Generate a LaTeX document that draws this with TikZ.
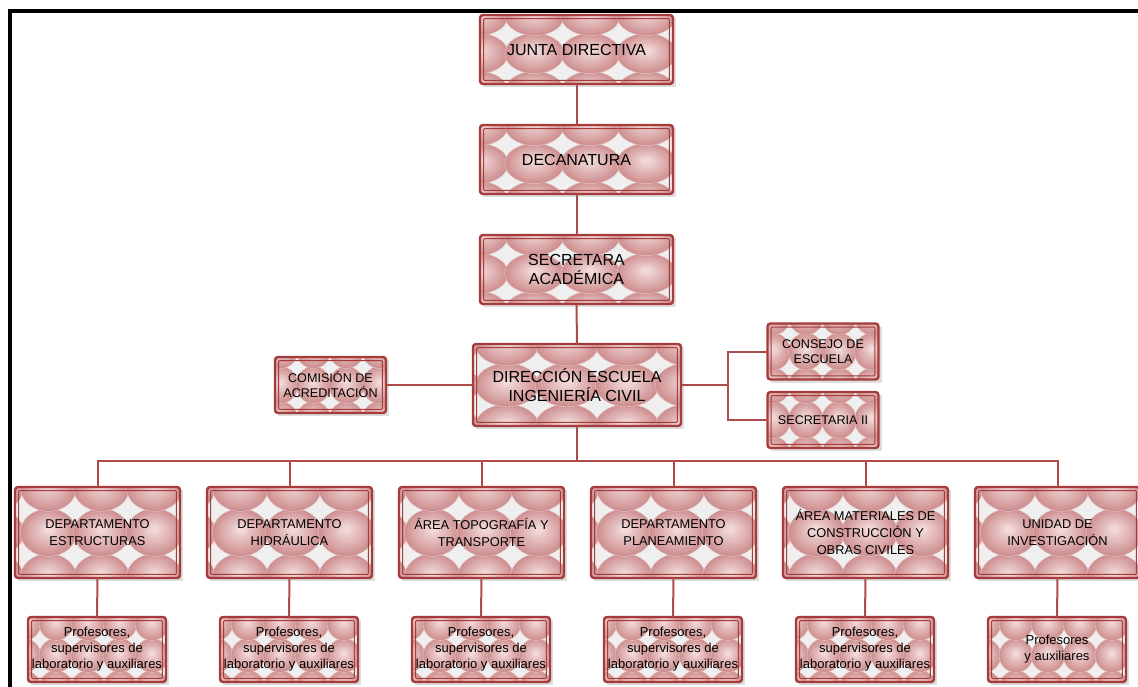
\documentclass[tikz,border=0pt]{standalone}
\usepackage{fontspec}
\setmainfont{Liberation Sans}
\usetikzlibrary{shadows}

\definecolor{frame}{HTML}{A53B3B}
\definecolor{wire}{HTML}{B04A4A}
\definecolor{tilebg}{HTML}{EFEFEF}
\definecolor{balllight}{HTML}{F2D8D8}
\definecolor{balldark}{HTML}{CF9191}
\definecolor{ballrim}{HTML}{E4C4C4}

\tikzset{
  unitbase/.style={rectangle, inner sep=0pt, outer sep=0pt, fill=tilebg,
    drop shadow={shadow xshift=3pt, shadow yshift=-3pt, fill=black!13, opacity=1}},
  top/.style={unitbase, minimum width=193pt, minimum height=69pt},
  dir/.style={unitbase, minimum width=208pt, minimum height=82pt},
  side/.style={unitbase, minimum width=111pt, minimum height=56pt},
  dept/.style={unitbase, minimum width=165pt, minimum height=91pt},
  staff/.style={unitbase, minimum width=138pt, minimum height=65pt},
  unitlabel/.style={inner sep=0pt, align=center, text=black},
  top label/.style={unitlabel, font=\fontsize{16}{19}\selectfont},
  dir label/.style={unitlabel, font=\fontsize{16}{19}\selectfont},
  side label/.style={unitlabel, font=\fontsize{12.6}{15}\selectfont},
  dept label/.style={unitlabel, font=\fontsize{12.8}{17}\selectfont},
  staff label/.style={unitlabel, font=\fontsize{13}{16}\selectfont},
  unitframe/.style={draw=frame, line width=2.4pt, rounded corners=3pt},
  unitinner/.style={draw=frame, line width=0.9pt, rounded corners=1pt},
  wire/.style={draw=wire, line width=2pt},
}

% tile columns/rows that reach into each kind of box
\expandafter\def\csname tiles-top\endcsname{\def\tilei{-2,...,1}\def\tilej{-1,...,1}}
\expandafter\def\csname tiles-dir\endcsname{\def\tilei{-2,...,2}\def\tilej{-1,...,1}}
\expandafter\def\csname tiles-side\endcsname{\def\tilei{-2,...,1}\def\tilej{-1,...,1}}
\expandafter\def\csname tiles-dept\endcsname{\def\tilei{-2,...,2}\def\tilej{-1,...,1}}
\expandafter\def\csname tiles-staff\endcsname{\def\tilei{-2,...,2}\def\tilej{-1,...,1}}

% one lit ball of the tile pattern: node, dx, dy, rx, ry (pt, y upwards)
\newcommand\tileball[5]{%
  \pgfmathsetmacro\tbx{#2}\pgfmathsetmacro\tby{#3}%
  \pgfmathsetmacro\tbrx{#4}\pgfmathsetmacro\tbry{#5}%
  \begin{scope}[shift={(#1.center)}, shift={(\tbx pt,\tby pt)}, xscale=\tbrx, yscale=\tbry]
    \foreach \k in {0,...,9}{%
      \pgfmathsetmacro\ballr{1-0.095*\k}%
      \pgfmathsetmacro\bally{0.014*\k}%
      \pgfmathtruncatemacro\ballmix{\k*100/9}%
      \fill[balllight!\ballmix!balldark] (0pt,\bally pt) circle (\ballr pt);
    }
  \end{scope}
  \draw[ballrim, line width=0.4pt] ([shift={(\tbx pt,\tby pt)}]#1.center)
    ellipse [x radius=\tbrx pt, y radius=\tbry pt];
}

% a unit box: name, kind, position, tile spacing x/y, tile offset x/y, text
\newcommand\orgunit[8]{%
  \node[#2] (#1) at (#3) {};
  \csname tiles-#2\endcsname
  \begin{scope}
    \clip[rounded corners=3pt] (#1.south west) rectangle (#1.north east);
    \foreach \i in \tilei {%
      \foreach \j in \tilej {%
        \tileball{#1}{\i*(#4)+(#6)}{\j*(#5)+(#7)}{0.53*(#4)}{0.53*(#5)}%
      }%
    }%
  \end{scope}
  \draw[unitframe] (#1.south west) rectangle (#1.north east);
  \draw[unitinner] ([shift={(3.6pt,3.6pt)}]#1.south west) rectangle ([shift={(-3.6pt,-3.6pt)}]#1.north east);
  \node[#2 label] (#1-label) at (#1.center) {#8};
}

\begin{document}
\begin{tikzpicture}[x=1pt, y=-1pt]
\useasboundingbox (0,0) rectangle (1138,686);

% page frame
\draw[line width=4pt, black] (10,690) -- (10,11) -- (1142,11);

% hierarchy
\orgunit{junta}{top}{576.5,49.5}{56}{38}{14}{-4}{JUNTA DIRECTIVA}
\orgunit{decan}{top}{576.5,159.5}{56}{38}{14}{-4}{DECANATURA}
\orgunit{secr}{top}{576.5,269.5}{56}{38}{14}{-4}{SECRETARA\\ACADÉMICA}
\orgunit{dir}{dir}{577,385}{60}{41}{-10}{0}{DIRECCIÓN ESCUELA\\INGENIERÍA CIVIL}

\orgunit{comision}{side}{330.5,385}{33}{35}{16}{0}{COMISIÓN DE\\ACREDITACIÓN}
\orgunit{consejo}{side}{823,351.5}{33}{35}{16}{0}{CONSEJO DE\\ESCUELA}
\orgunit{secii}{side}{823,420}{33}{35}{16}{0}{SECRETARIA II}

\orgunit{d1}{dept}{97.5,532.5}{53}{45}{4}{0}{DEPARTAMENTO\\ESTRUCTURAS}
\orgunit{d2}{dept}{289.5,532.5}{53}{45}{4}{0}{DEPARTAMENTO\\HIDRÁULICA}
\orgunit{d3}{dept}{481.5,532.5}{53}{45}{4}{0}{ÁREA TOPOGRAFÍA Y\\TRANSPORTE}
\orgunit{d4}{dept}{673.5,532.5}{53}{45}{4}{0}{DEPARTAMENTO\\PLANEAMIENTO}
\orgunit{d5}{dept}{865.5,532.5}{53}{45}{4}{0}{ÁREA MATERIALES DE\\CONSTRUCCIÓN Y\\OBRAS CIVILES}
\orgunit{d6}{dept}{1057.5,532.5}{53}{45}{4}{0}{UNIDAD DE\\INVESTIGACIÓN}

\orgunit{s1}{staff}{97,649.5}{32}{32}{-9}{-6}{Profesores,\\supervisores de\\laboratorio y auxiliares}
\orgunit{s2}{staff}{289,649.5}{32}{32}{-9}{-6}{Profesores,\\supervisores de\\laboratorio y auxiliares}
\orgunit{s3}{staff}{481,649.5}{32}{32}{-9}{-6}{Profesores,\\supervisores de\\laboratorio y auxiliares}
\orgunit{s4}{staff}{673,649.5}{32}{32}{-9}{-6}{Profesores,\\supervisores de\\laboratorio y auxiliares}
\orgunit{s5}{staff}{865,649.5}{32}{32}{-9}{-6}{Profesores,\\supervisores de\\laboratorio y auxiliares}
\orgunit{s6}{staff}{1057,649.5}{32}{32}{-9}{-6}{Profesores\\y auxiliares}

% connectors
\draw[wire] (junta.south) -- (decan.north);
\draw[wire] (decan.south) -- (secr.north);
\draw[wire] (secr.south) -- (dir.north);
\draw[wire] (dir.west) -- (comision.east);
\draw[wire] (dir.east) -- ++(47,0) coordinate (fork);
\draw[wire] (consejo.west) -| (fork) |- (secii.west);
\coordinate (bus) at (577,461);
\draw[wire] (dir.south) -- (bus);
\draw[wire] (d1.north) |- (bus) -| (d6.north);
\foreach \d in {d2,d3,d4,d5}{
  \draw[wire] (\d.north) -- (\d.north |- bus);
}
\foreach \k in {1,...,6}{
  \draw[wire] (d\k.south) -- (s\k.north);
}
\end{tikzpicture}
\end{document}
